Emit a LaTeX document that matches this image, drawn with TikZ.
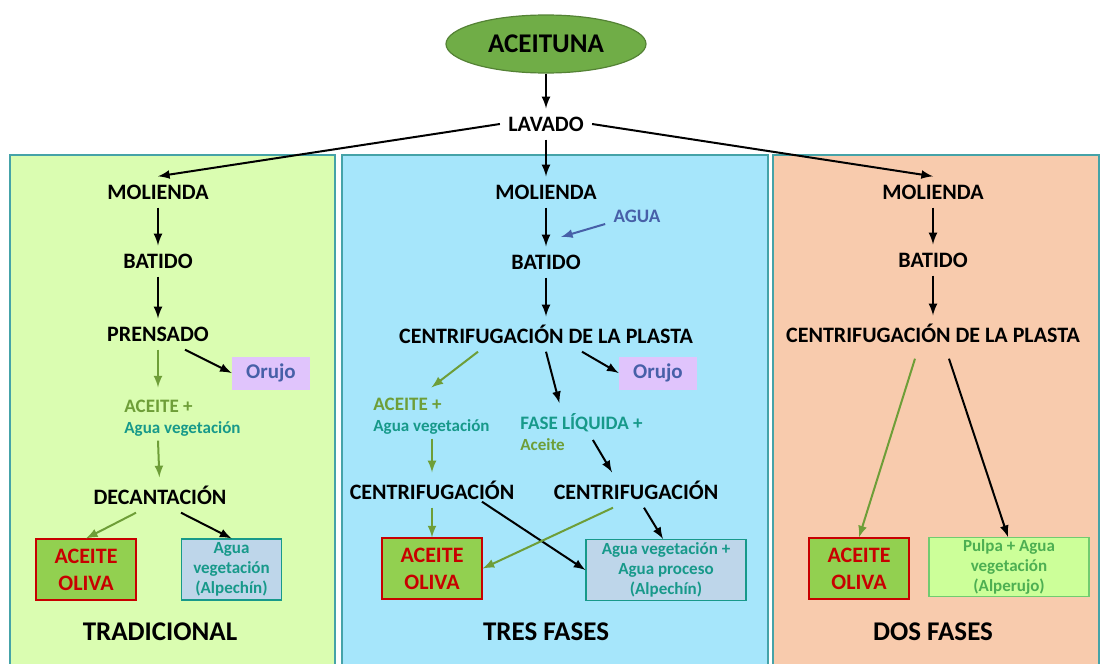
\documentclass[tikz,border=0pt]{standalone}
\usepackage{fontspec}
\setmainfont{Carlito}
\usepackage{xcolor}
\usetikzlibrary{arrows,shapes.geometric}

\definecolor{fondoA}{HTML}{DAFDB1}
\definecolor{fondoB}{HTML}{A6E6FB}
\definecolor{fondoC}{HTML}{F8CBAD}
\definecolor{borde}{HTML}{45A3A8}
\definecolor{hoja}{HTML}{70AD47}
\definecolor{hojaosc}{HTML}{548235}
\definecolor{olivo}{HTML}{6E9E38}
\definecolor{turq}{HTML}{17998A}
\definecolor{lila}{HTML}{E0C4FC}
\definecolor{azulado}{HTML}{4760A8}
\definecolor{rojo}{HTML}{C80000}
\definecolor{verdecaja}{HTML}{92D050}
\definecolor{celeste}{HTML}{BED6EA}
\definecolor{pulpa}{HTML}{CCFF99}
\definecolor{pulpatxt}{HTML}{4DAF52}
\definecolor{pulpaborde}{HTML}{70CC70}

\begin{document}
\begin{tikzpicture}[x=0.5pt,y=-0.5pt]
\tikzset{paso/.style={font=\fontsize{11}{12}\selectfont\bfseries,inner sep=4pt}}
\tikzset{titulo/.style={font=\fontsize{13.5}{15}\selectfont\bfseries}}
\tikzset{flecha/.style={-latex,line width=1pt}}
\tikzset{verde/.style={flecha,draw=olivo,color=olivo}}
\tikzset{mezcla/.style={font=\fontsize{8.5}{10.5}\selectfont\bfseries,align=left,inner sep=2pt,text=turq}}
\tikzset{caja/.style={draw,line width=0.6pt,minimum width=50pt,minimum height=30.5pt,align=center,inner sep=1pt}}
\tikzset{oliva/.style={caja,fill=verdecaja,draw=rojo,text=rojo,font=\fontsize{11}{13.5}\selectfont\bfseries}}
\tikzset{alpe/.style={caja,fill=celeste,draw=turq,text=turq,font=\fontsize{8.5}{10}\selectfont\bfseries}}
\tikzset{orujo/.style={fill=lila,text=azulado,minimum width=39pt,minimum height=16.5pt,font=\fontsize{10.5}{12}\selectfont\bfseries}}

\useasboundingbox (0,0) rectangle (1100,664);

\filldraw[fill=fondoA,draw=borde,line width=0.6pt] (10,155) rectangle (335,670);
\filldraw[fill=fondoB,draw=borde,line width=0.6pt] (342,155) rectangle (768,670);
\filldraw[fill=fondoC,draw=borde,line width=0.6pt] (773,155) rectangle (1099,670);

\node[ellipse,fill=hoja,draw=hojaosc,line width=0.6pt,minimum width=100pt,minimum height=29pt,font=\fontsize{13.5}{15}\selectfont\bfseries] (ace) at (546,44) {ACEITUNA};
\node[paso] (lav) at (546,124) {LAVADO};

% tradicional
\node[paso] (m1) at (158,192) {MOLIENDA};
\node[paso] (b1) at (158,261) {BATIDO};
\node[paso] (p1) at (158,334) {PRENSADO};
\node[orujo] (o1) at (271,373) {Orujo};
\node[mezcla,anchor=west] (z1) at (120,418) {{\fontsize{9.5}{10.5}\selectfont\color{olivo}ACEITE +}\\Agua vegetación};
\node[paso] (d1) at (160,495) {DECANTACIÓN};
\node[oliva] (a1) at (86,569.5) {ACEITE\\OLIVA};
\node[alpe] (w1) at (231.5,569.5) {Agua\\vegetación\\(Alpechín)};
\node[titulo] (t1) at (160,632) {TRADICIONAL};

% tres fases
\node[paso] (m2) at (546,192) {MOLIENDA};
\node[font=\fontsize{9.5}{11}\selectfont\bfseries,text=azulado,inner sep=4pt] (ag) at (637,216) {AGUA};
\coordinate (ma) at (561,237);
\node[paso] (b2) at (546,262) {BATIDO};
\node[paso] (c2) at (546,334) {CENTRIFUGACIÓN DE LA PLASTA};
\node[orujo] (o2) at (658,373) {Orujo};
\node[mezcla,anchor=west] (z2) at (369,416) {{\fontsize{9.5}{10.5}\selectfont\color{olivo}ACEITE +}\\Agua vegetación};
\node[mezcla,anchor=west] (f2) at (516,432) {{\fontsize{9.5}{10.5}\selectfont FASE LÍQUIDA +}\\{\color{olivo}Aceite}};
\node[paso] (c3) at (432,490) {CENTRIFUGACIÓN};
\node[paso] (c4) at (636,490) {CENTRIFUGACIÓN};
\node[oliva] (a2) at (432,568.5) {ACEITE\\OLIVA};
\node[alpe,minimum width=80pt] (w2) at (666,570) {Agua vegetación +\\Agua proceso\\(Alpechín)};
\node[titulo] (t2) at (546,632) {TRES FASES};

% dos fases
\node[paso] (m3) at (933,192) {MOLIENDA};
\node[paso] (b3) at (933,260) {BATIDO};
\node[paso] (c5) at (933,333) {CENTRIFUGACIÓN DE LA PLASTA};
\node[oliva] (a3) at (859,568.5) {ACEITE\\OLIVA};
\node[caja,fill=pulpa,draw=pulpaborde,text=pulpatxt,minimum width=80pt,minimum height=29pt,font=\fontsize{8.5}{10}\selectfont\bfseries] (w3) at (1009,567) {Pulpa + Agua\\vegetación\\(Alperujo)};
\node[titulo] (t3) at (933,632) {DOS FASES};

\draw[flecha] (ace) -- (lav);
\draw[flecha] (lav.west) -- (m1.north);
\draw[flecha] (lav) -- (m2);
\draw[flecha] (lav.east) -- (m3.north);

\draw[flecha] (m1) -- (b1);
\draw[flecha] (b1) -- (p1);
\draw[flecha] ([xshift=13.5pt]p1.south) -- (o1.west);
\draw[verde,shorten >=4pt] (p1) -- (p1 |- z1.north);
\draw[verde] (p1 |- z1.south) -- (d1);
\draw[verde] ([xshift=-12pt]d1.south) -- (a1.north);
\draw[flecha] ([xshift=10.5pt]d1.south) -- (w1.north);

\draw[flecha] (m2) -- (b2);
\draw[flecha,draw=azulado,color=azulado] ([yshift=-4pt]ag.west) -- (ma);
\draw[flecha] (b2) -- (c2);
\draw[verde] ([xshift=-34pt]c2.south) -- ([yshift=3pt]z2.north);
\draw[flecha] (c2.south) -- ([xshift=-11pt,yshift=3pt]f2.north);
\draw[flecha] ([xshift=18pt]c2.south) -- (o2.west);
\draw[verde] (z2.south -| c3) -- (c3);
\draw[flecha] ([xshift=-27pt,yshift=-4pt]f2.east) -- ([xshift=-12pt]c4.north);
\draw[verde] (c3) -- (a2);
\draw[flecha] ([xshift=25pt,yshift=3pt]c3.south) -- (w2.west);
\draw[verde] ([xshift=-11.5pt]c4.south) -- (a2.east);
\draw[flecha] ([xshift=4pt]c4.south) -- ([xshift=-1.5pt]w2.north);

\draw[flecha] (m3) -- (b3);
\draw[flecha] (b3) -- (c5);
\draw[verde] ([xshift=-9pt,yshift=-4pt]c5.south) -- (a3.north);
\draw[flecha] ([xshift=8pt,yshift=-4pt]c5.south) -- ([xshift=-0.5pt]w3.north);

\end{tikzpicture}
\end{document}
